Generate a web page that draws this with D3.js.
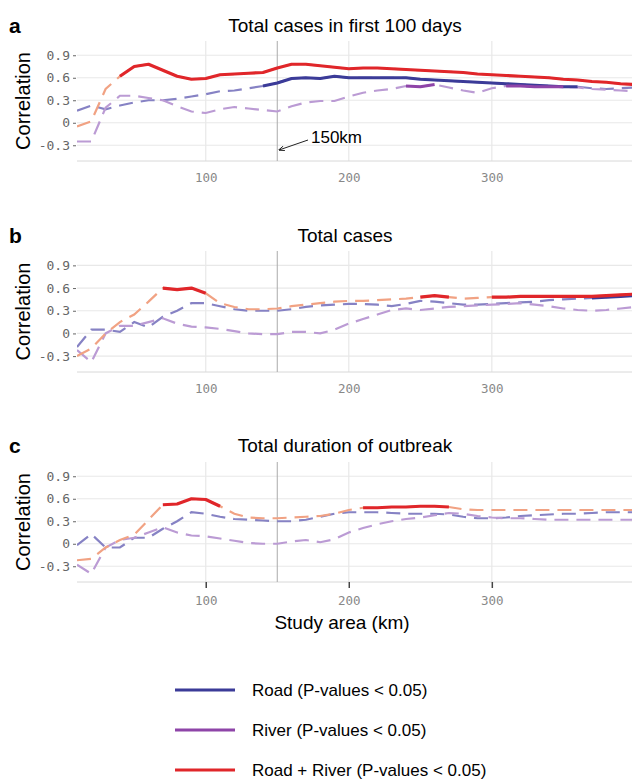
<!DOCTYPE html>
<html><head><meta charset="utf-8">
<script src="https://cdn.jsdelivr.net/npm/d3@7"></script>
<style>body{margin:0;background:#fff}</style></head>
<body><svg id="c" width="632" height="781"></svg>
<script>
const xs = d3.range(10, 401, 10);
const panelTitles = ["Total cases in first 100 days","Total cases","Total duration of outbreak"];
const panelLetters = ["a","b","c"];
const seriesNames = ["Road (P-values < 0.05)","River (P-values < 0.05)","Road + River (P-values < 0.05)"];
const yTicks = [-0.3,0,0.3,0.6,0.9];
const xTicks = [100,200,300];
// panel a
const aRoad = [0.16,0.23,0.18,0.23,0.27,0.30,0.30,0.32,0.35,0.38,0.42,0.43,0.46,0.49,0.53,0.59,0.60,0.59,0.62,0.60,0.60,0.60,0.60,0.60,0.58,0.57,0.56,0.55,0.54,0.53,0.52,0.51,0.50,0.49,0.48,0.48,0.46,0.45,0.46,0.47];
const aRiver = [-0.25,-0.25,0.20,0.36,0.36,0.33,0.30,0.22,0.15,0.13,0.18,0.21,0.19,0.17,0.15,0.22,0.27,0.29,0.29,0.35,0.40,0.43,0.45,0.49,0.48,0.51,0.47,0.43,0.40,0.46,0.49,0.49,0.48,0.48,0.48,0.47,0.45,0.44,0.43,0.42];
const aBoth = [-0.05,0.02,0.45,0.62,0.75,0.78,0.70,0.62,0.58,0.59,0.64,0.65,0.66,0.67,0.73,0.78,0.78,0.76,0.74,0.72,0.73,0.73,0.72,0.71,0.70,0.69,0.68,0.67,0.65,0.64,0.63,0.62,0.61,0.60,0.58,0.57,0.55,0.54,0.52,0.51];
const aSig = [[[140,360]],[[240,260],[310,350]],[[40,400]]];
// panel b
const bRoad = [-0.18,0.05,0.05,0.02,0.15,0.08,0.22,0.30,0.40,0.40,0.36,0.32,0.30,0.30,0.30,0.32,0.35,0.37,0.38,0.39,0.39,0.38,0.36,0.39,0.43,0.42,0.40,0.38,0.38,0.39,0.40,0.41,0.42,0.44,0.45,0.46,0.47,0.48,0.49,0.50];
const bRiver = [-0.22,-0.38,0.00,0.10,0.10,0.15,0.20,0.13,0.09,0.08,0.06,0.03,0.00,-0.01,-0.01,0.02,0.02,0.00,0.05,0.13,0.19,0.25,0.31,0.33,0.31,0.33,0.35,0.36,0.37,0.38,0.39,0.40,0.38,0.36,0.33,0.31,0.30,0.31,0.33,0.35];
const bBoth = [-0.30,-0.20,0.00,0.15,0.25,0.42,0.60,0.58,0.60,0.53,0.40,0.35,0.32,0.32,0.33,0.36,0.38,0.40,0.42,0.43,0.43,0.44,0.45,0.46,0.48,0.50,0.48,0.46,0.47,0.48,0.48,0.49,0.49,0.49,0.49,0.49,0.49,0.50,0.51,0.52];
const bSig = [[[370,400]],[],[[70,100],[250,270],[300,400]]];
// panel c
const cRoad = [-0.02,0.13,-0.05,-0.05,0.08,0.08,0.20,0.30,0.42,0.40,0.36,0.33,0.32,0.31,0.30,0.30,0.32,0.36,0.40,0.42,0.42,0.42,0.41,0.40,0.40,0.40,0.39,0.36,0.34,0.34,0.35,0.37,0.38,0.39,0.40,0.40,0.41,0.42,0.42,0.42];
const cRiver = [-0.28,-0.40,-0.05,0.05,0.08,0.15,0.22,0.15,0.11,0.10,0.07,0.04,0.01,0.00,0.00,0.03,0.05,0.02,0.06,0.15,0.21,0.26,0.30,0.33,0.35,0.38,0.41,0.40,0.37,0.35,0.34,0.34,0.33,0.32,0.32,0.32,0.32,0.32,0.32,0.32];
const cBoth = [-0.22,-0.20,-0.05,0.05,0.12,0.32,0.52,0.53,0.60,0.59,0.50,0.40,0.35,0.34,0.34,0.35,0.36,0.37,0.40,0.45,0.48,0.48,0.49,0.49,0.50,0.50,0.49,0.46,0.45,0.45,0.45,0.45,0.45,0.45,0.45,0.45,0.45,0.45,0.45,0.45];
const cSig = [[],[],[[70,110],[210,270]]];

const panels = [
  {series:[aRoad,aRiver,aBoth], sig:aSig, top:41, bottom:161, title:25},
  {series:[bRoad,bRiver,bBoth], sig:bSig, top:251, bottom:372, title:235},
  {series:[cRoad,cRiver,cBoth], sig:cSig, top:462, bottom:582, title:445}
];
const solidCol = ["#3b3b98","#8e44a8","#e0262a"];
const dashCol = ["#8682c4","#bb9bd4","#f1a283"];
const svg = d3.select("#c");
const x = d3.scaleLinear().domain([10,398]).range([77,632]);
const defs = svg.append("defs");
defs.append("marker").attr("id","arr").attr("viewBox","0 0 10 10").attr("refX",9).attr("refY",5)
  .attr("markerWidth",6).attr("markerHeight",6).attr("orient","auto")
  .append("path").attr("d","M0,1L10,5L0,9").attr("fill","none").attr("stroke","#222").attr("stroke-width",1.5);

panels.forEach((p,pi)=>{
  const y = d3.scaleLinear().domain([-0.51,1.09]).range([p.bottom,p.top]);
  const g = svg.append("g");
  const cid = "clip"+pi;
  defs.append("clipPath").attr("id",cid).append("rect").attr("x",77).attr("y",p.top).attr("width",555).attr("height",p.bottom-p.top);
  g.selectAll(".hg").data(yTicks).join("line").attr("x1",77).attr("x2",632).attr("y1",d=>y(d)).attr("y2",d=>y(d)).attr("stroke","#e8e8e8").attr("stroke-width",1.2);
  g.selectAll(".vg").data(xTicks).join("line").attr("x1",d=>x(d)).attr("x2",d=>x(d)).attr("y1",p.top).attr("y2",p.bottom).attr("stroke","#e8e8e8").attr("stroke-width",1.2);
  g.append("line").attr("x1",77).attr("x2",632).attr("y1",p.bottom).attr("y2",p.bottom).attr("stroke","#d8d8d8");
  g.append("line").attr("x1",x(150)).attr("x2",x(150)).attr("y1",p.top).attr("y2",p.bottom).attr("stroke","#aaa").attr("stroke-width",1);
  const ya = g.append("g").attr("transform","translate(76,0)").call(d3.axisLeft(y).tickValues(yTicks).tickSize(3).tickFormat(d=>d===0?"0":d3.format(".1f")(d).replace("−","-")));
  ya.select(".domain").remove();
  ya.selectAll("line").attr("stroke","#666");
  ya.selectAll("text").attr("font-family","DejaVu Sans Mono").attr("font-size",13).attr("fill","#666");
  const xa = g.append("g").attr("transform",`translate(0,${p.bottom})`).call(d3.axisBottom(x).tickValues(xTicks).tickSize(pi===2?6:0).tickPadding(pi===2?8:12));
  xa.select(".domain").remove();
  xa.selectAll("line").attr("stroke","#444").attr("stroke-width",1.5);
  xa.selectAll("text").attr("font-family","DejaVu Sans Mono").attr("font-size",12.5).attr("fill","#888");
  svg.append("text").attr("x",345).attr("y",p.title+7).attr("text-anchor","middle").attr("font-family","Liberation Sans").attr("font-size",19).text(panelTitles[pi]);
  svg.append("text").attr("x",9).attr("y",p.title+8).attr("font-family","Liberation Sans").attr("font-weight","bold").attr("font-size",21).text(panelLetters[pi]);
  svg.append("text").attr("transform",`translate(30,${(p.top+p.bottom)/2}) rotate(-90)`).attr("text-anchor","middle").attr("font-family","Liberation Sans").attr("font-size",20).text("Correlation");
  const line = d3.line().x(d=>x(d[0])).y(d=>y(d[1]));
  const lg = g.append("g").attr("clip-path",`url(#${cid})`);
  p.series.forEach((vals,si)=>{
    const pts = xs.map((xv,i)=>[xv,vals[i]]);
    lg.append("path").attr("d",line(pts)).attr("fill","none").attr("stroke",dashCol[si]).attr("stroke-width",2.2).attr("stroke-dasharray","14,8");
  });
  p.series.forEach((vals,si)=>{
    const pts = xs.map((xv,i)=>[xv,vals[i]]);
    p.sig[si].forEach(r=>{
      lg.append("path").attr("d",line(pts.filter(d=>d[0]>=r[0]&&d[0]<=r[1]))).attr("fill","none").attr("stroke",solidCol[si]).attr("stroke-width",3.2).attr("stroke-linejoin","round");
    });
  });
  if(pi===0){
    svg.append("line").attr("x1",308).attr("y1",140).attr("x2",279).attr("y2",150).attr("stroke","#222").attr("stroke-width",1).attr("marker-end","url(#arr)");
    svg.append("text").attr("x",311).attr("y",143).attr("font-family","Liberation Sans").attr("font-size",17).text("150km");
  }
});
svg.append("text").attr("x",342).attr("y",629).attr("text-anchor","middle").attr("font-family","Liberation Sans").attr("font-size",19).text("Study area (km)");
seriesNames.forEach((n,i)=>{
  const yy = 690+i*40;
  svg.append("line").attr("x1",175).attr("x2",235).attr("y1",yy).attr("y2",yy).attr("stroke",solidCol[i]).attr("stroke-width",3);
  svg.append("text").attr("x",252).attr("y",yy+6).attr("font-family","Liberation Sans").attr("font-size",17).text(n);
});
</script></body></html>
